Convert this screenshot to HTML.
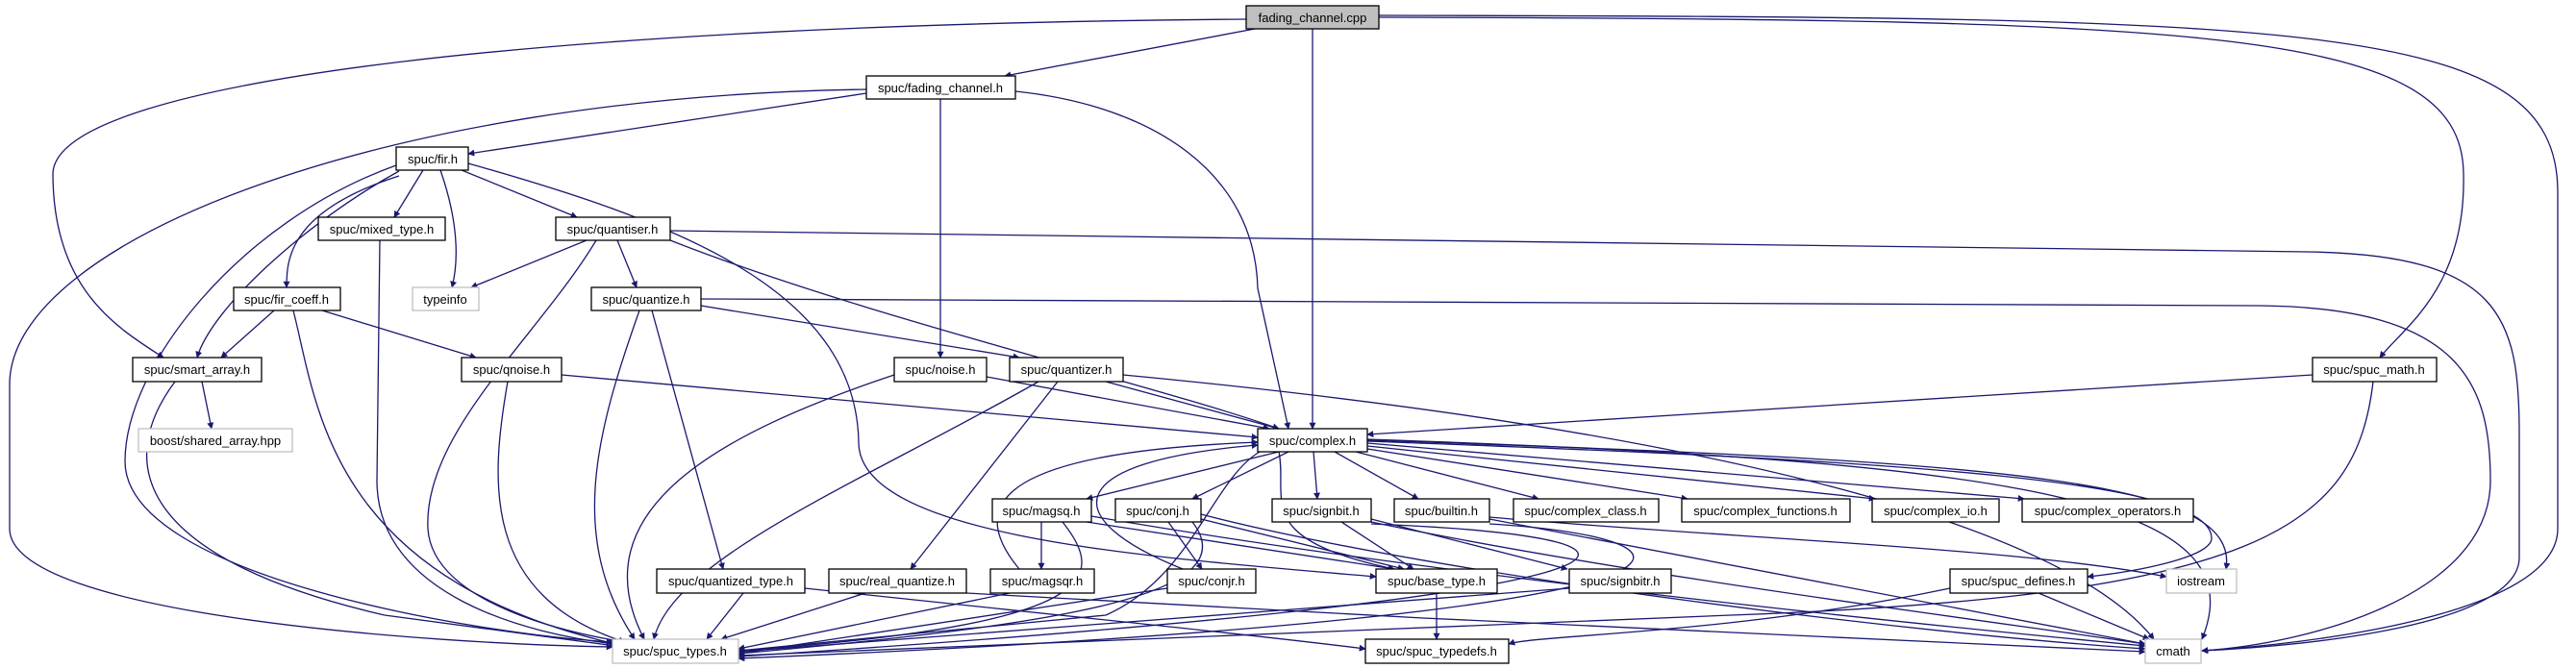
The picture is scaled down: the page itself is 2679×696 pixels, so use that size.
<!DOCTYPE html>
<html><head><meta charset="utf-8"><style>
html,body{margin:0;padding:0;background:#fff;}
svg{display:block;}
text{font-family:"Liberation Sans",sans-serif;font-size:13px;fill:#000;}
</style></head><body>
<svg width="2679" height="696" viewBox="0 0 2679 696" xmlns="http://www.w3.org/2000/svg">
<defs>
<marker id="a" viewBox="0 0 10 10" refX="9" refY="5" markerWidth="7" markerHeight="7" orient="auto" markerUnits="userSpaceOnUse">
<path d="M0,0 L10,5 L0,10 z" fill="#191970"/></marker>
</defs>
<g fill="none" stroke="#191970" stroke-width="1.3" marker-end="url(#a)">
<path d="M1305,30 L1045,79"/>
<path d="M1296,20 C600,25 60,80 55,180 C55,300 120,340 170,372"/>
<path d="M1365,30 L1365,446"/>
<path d="M1434,18 C2300,20 2560,30 2562,180 C2565,300 2500,340 2475,372"/>
<path d="M1434,16 C2400,18 2660,20 2660,200 L2660,550 C2660,640 2400,670 2290,677"/>
<path d="M901,97 L487,160"/>
<path d="M901,93 C400,100 10,250 10,400 L10,550 C10,640 450,670 637,673"/>
<path d="M978,103 L978,372"/>
<path d="M1056,95 C1200,110 1305,180 1308,300 L1340,446"/>
<path d="M440,177 L410,226"/>
<path d="M458,177 C480,240 475,280 470,299"/>
<path d="M480,177 L600,226"/>
<path d="M415,183 C300,220 298,270 298,299"/>
<path d="M415,178 C320,230 220,320 205,372"/>
<path d="M412,172 C250,230 130,380 130,480 C130,600 500,660 637,668"/>
<path d="M487,170 C700,230 890,300 893,460 C893,560 1200,580 1431,600"/>
<path d="M395,250 L392,500 C392,620 550,660 640,670"/>
<path d="M610,250 L490,299"/>
<path d="M642,250 L662,299"/>
<path d="M620,250 C560,350 440,450 445,550 C450,630 600,660 650,668"/>
<path d="M697,250 C900,330 1200,400 1330,446"/>
<path d="M697,240 L2400,262 C2600,265 2620,330 2620,450 L2620,580 C2620,650 2400,672 2290,677"/>
<path d="M285,323 L230,372"/>
<path d="M335,323 L495,372"/>
<path d="M305,323 C330,420 340,600 640,670"/>
<path d="M729,318 L1060,372"/>
<path d="M678,323 L752,592"/>
<path d="M665,323 C620,450 590,560 660,665"/>
<path d="M729,311 L2350,318 C2560,320 2590,400 2590,500 C2590,620 2400,670 2290,677"/>
<path d="M210,397 L220,446"/>
<path d="M182,397 C120,480 140,580 400,640 L640,672"/>
<path d="M584,390 L1308,455"/>
<path d="M528,397 C510,500 500,620 650,668"/>
<path d="M1026,392 L1320,446"/>
<path d="M930,390 C750,450 600,530 670,665"/>
<path d="M1150,397 L1330,446"/>
<path d="M1100,397 L947,592"/>
<path d="M1080,397 C900,500 700,580 680,665"/>
<path d="M1168,390 C1800,450 2150,550 2240,665"/>
<path d="M2405,390 L1422,452"/>
<path d="M2468,397 C2450,550 2350,620 1800,640 L768,682"/>
<path d="M1330,470 L1130,519"/>
<path d="M1340,470 L1240,519"/>
<path d="M1366,470 L1370,519"/>
<path d="M1388,470 L1475,519"/>
<path d="M1410,470 L1600,519"/>
<path d="M1422,467 L1755,519"/>
<path d="M1422,464 L1950,519"/>
<path d="M1422,461 L2105,519"/>
<path d="M1422,459 C2000,480 2300,500 2300,560 C2300,580 2220,595 2171,600"/>
<path d="M1422,458 C2100,480 2330,500 2315,592"/>
<path d="M1422,457 C2100,480 2350,520 2290,665"/>
<path d="M1310,470 C1260,500 1240,600 1150,640 L768,677"/>
<path d="M1330,470 C1340,520 1300,560 1450,592"/>
<path d="M1060,592 C1000,520 1050,470 1308,460"/>
<path d="M1230,592 C1100,540 1100,480 1308,463"/>
<path d="M1083,543 L1083,592"/>
<path d="M1105,543 C1150,600 1150,650 768,677"/>
<path d="M1130,543 L1450,592"/>
<path d="M1135,537 C1500,600 2000,650 2231,672"/>
<path d="M1215,543 L1250,592"/>
<path d="M1249,540 L1460,592"/>
<path d="M1240,543 C1300,620 1100,650 768,680"/>
<path d="M1249,535 C1500,600 2000,660 2231,675"/>
<path d="M1214,612 L768,680"/>
<path d="M1050,617 L768,675"/>
<path d="M900,617 L750,665"/>
<path d="M1005,617 C1400,640 2000,670 2231,678"/>
<path d="M773,617 L735,665"/>
<path d="M837,612 C1100,640 1300,660 1420,675"/>
<path d="M1395,543 L1470,592"/>
<path d="M1426,540 L1630,592"/>
<path d="M1426,545 C1800,560 1750,620 768,683"/>
<path d="M1426,543 C1700,600 2100,650 2231,670"/>
<path d="M1549,538 C1800,560 2100,570 2253,600"/>
<path d="M1549,540 L2231,670"/>
<path d="M1549,545 C1800,560 1850,640 768,685"/>
<path d="M1494,617 L1494,665"/>
<path d="M1632,612 C1300,640 1000,660 768,678"/>
<path d="M2120,617 L2235,665"/>
<path d="M2028,612 C1800,660 1600,660 1569,670"/>
</g>
<g stroke-width="1.3">
<!-- nodes: x,y,w,h -->
<rect x="1296" y="6" width="138" height="24" fill="#bfbfbf" stroke="#000"/><text x="1365" y="23" text-anchor="middle">fading_channel.cpp</text>
<rect x="901" y="79" width="155" height="24" fill="#fff" stroke="#000"/><text x="978" y="96" text-anchor="middle">spuc/fading_channel.h</text>
<rect x="412" y="153" width="75" height="24" fill="#fff" stroke="#000"/><text x="450" y="170" text-anchor="middle">spuc/fir.h</text>
<rect x="331" y="226" width="132" height="24" fill="#fff" stroke="#000"/><text x="397" y="243" text-anchor="middle">spuc/mixed_type.h</text>
<rect x="578" y="226" width="119" height="24" fill="#fff" stroke="#000"/><text x="637" y="243" text-anchor="middle">spuc/quantiser.h</text>
<rect x="243" y="299" width="111" height="24" fill="#fff" stroke="#000"/><text x="298" y="316" text-anchor="middle">spuc/fir_coeff.h</text>
<rect x="429" y="299" width="69" height="24" fill="#fff" stroke="#bfbfbf"/><text x="463" y="316" text-anchor="middle">typeinfo</text>
<rect x="615" y="299" width="114" height="24" fill="#fff" stroke="#000"/><text x="672" y="316" text-anchor="middle">spuc/quantize.h</text>
<rect x="138" y="372" width="134" height="25" fill="#fff" stroke="#000"/><text x="205" y="389" text-anchor="middle">spuc/smart_array.h</text>
<rect x="480" y="372" width="104" height="25" fill="#fff" stroke="#000"/><text x="532" y="389" text-anchor="middle">spuc/qnoise.h</text>
<rect x="930" y="372" width="96" height="25" fill="#fff" stroke="#000"/><text x="978" y="389" text-anchor="middle">spuc/noise.h</text>
<rect x="1050" y="372" width="118" height="25" fill="#fff" stroke="#000"/><text x="1109" y="389" text-anchor="middle">spuc/quantizer.h</text>
<rect x="2405" y="372" width="129" height="25" fill="#fff" stroke="#000"/><text x="2469" y="389" text-anchor="middle">spuc/spuc_math.h</text>
<rect x="144" y="446" width="160" height="24" fill="#fff" stroke="#bfbfbf"/><text x="224" y="463" text-anchor="middle">boost/shared_array.hpp</text>
<rect x="1308" y="446" width="114" height="24" fill="#fff" stroke="#000"/><text x="1365" y="463" text-anchor="middle">spuc/complex.h</text>
<rect x="1032" y="519" width="103" height="24" fill="#fff" stroke="#000"/><text x="1083" y="536" text-anchor="middle">spuc/magsq.h</text>
<rect x="1160" y="519" width="89" height="24" fill="#fff" stroke="#000"/><text x="1204" y="536" text-anchor="middle">spuc/conj.h</text>
<rect x="1323" y="519" width="103" height="24" fill="#fff" stroke="#000"/><text x="1374" y="536" text-anchor="middle">spuc/signbit.h</text>
<rect x="1450" y="519" width="99" height="24" fill="#fff" stroke="#000"/><text x="1499" y="536" text-anchor="middle">spuc/builtin.h</text>
<rect x="1574" y="519" width="151" height="24" fill="#fff" stroke="#000"/><text x="1649" y="536" text-anchor="middle">spuc/complex_class.h</text>
<rect x="1749" y="519" width="175" height="24" fill="#fff" stroke="#000"/><text x="1836" y="536" text-anchor="middle">spuc/complex_functions.h</text>
<rect x="1947" y="519" width="132" height="24" fill="#fff" stroke="#000"/><text x="2013" y="536" text-anchor="middle">spuc/complex_io.h</text>
<rect x="2103" y="519" width="178" height="24" fill="#fff" stroke="#000"/><text x="2192" y="536" text-anchor="middle">spuc/complex_operators.h</text>
<rect x="683" y="592" width="154" height="25" fill="#fff" stroke="#000"/><text x="760" y="609" text-anchor="middle">spuc/quantized_type.h</text>
<rect x="862" y="592" width="143" height="25" fill="#fff" stroke="#000"/><text x="933" y="609" text-anchor="middle">spuc/real_quantize.h</text>
<rect x="1030" y="592" width="108" height="25" fill="#fff" stroke="#000"/><text x="1084" y="609" text-anchor="middle">spuc/magsqr.h</text>
<rect x="1214" y="592" width="92" height="25" fill="#fff" stroke="#000"/><text x="1260" y="609" text-anchor="middle">spuc/conjr.h</text>
<rect x="1431" y="592" width="126" height="25" fill="#fff" stroke="#000"/><text x="1494" y="609" text-anchor="middle">spuc/base_type.h</text>
<rect x="1632" y="592" width="106" height="25" fill="#fff" stroke="#000"/><text x="1685" y="609" text-anchor="middle">spuc/signbitr.h</text>
<rect x="2028" y="592" width="143" height="25" fill="#fff" stroke="#000"/><text x="2099" y="609" text-anchor="middle">spuc/spuc_defines.h</text>
<rect x="2253" y="592" width="73" height="25" fill="#fff" stroke="#bfbfbf"/><text x="2289" y="609" text-anchor="middle">iostream</text>
<rect x="637" y="665" width="131" height="25" fill="#fff" stroke="#bfbfbf"/><text x="702" y="682" text-anchor="middle">spuc/spuc_types.h</text>
<rect x="1420" y="665" width="149" height="25" fill="#fff" stroke="#000"/><text x="1494" y="682" text-anchor="middle">spuc/spuc_typedefs.h</text>
<rect x="2231" y="665" width="58" height="25" fill="#fff" stroke="#bfbfbf"/><text x="2260" y="682" text-anchor="middle">cmath</text>
</g>
</svg>
</body></html>
